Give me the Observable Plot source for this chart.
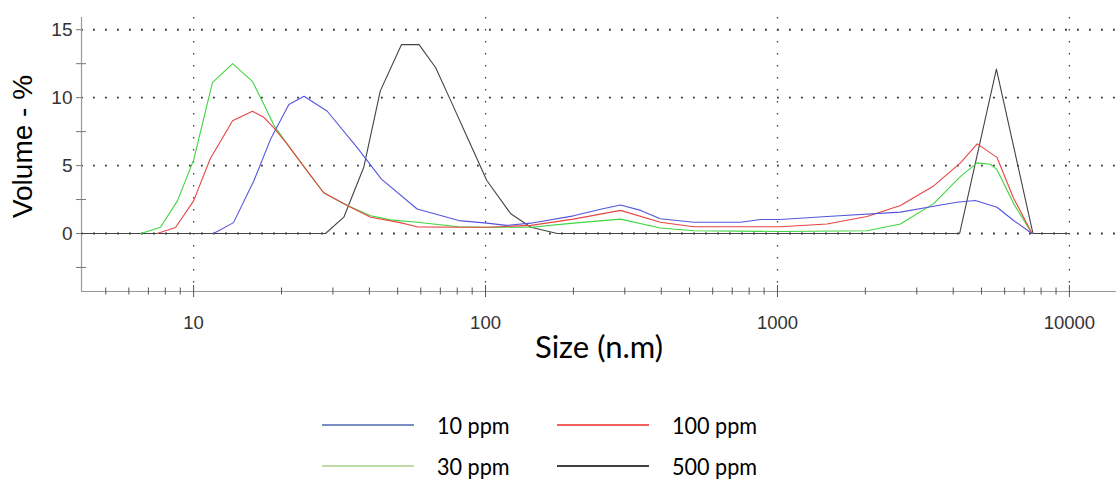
<!DOCTYPE html>
<html>
<head>
<meta charset="utf-8">
<script src="https://cdn.jsdelivr.net/npm/d3@7"></script>
<script src="https://cdn.jsdelivr.net/npm/@observablehq/plot@0.6"></script>
<style>
  html, body { margin: 0; padding: 0; background: #fff; }
  #wrap { width: 1116px; height: 482px; position: relative; overflow: hidden; }
  #legend { position: relative; width: 1116px; height: 102px; font-family: Lato, "Open Sans", sans-serif; font-size: 24px; color: #000; }
  .item { position: absolute; height: 30px; }
  .item svg { position: absolute; top: 0; left: 0; }
  .item span { position: absolute; top: 0; line-height: 30px; white-space: nowrap; transform: scaleX(0.9); transform-origin: left center; }
</style>
</head>
<body>
<div id="wrap">
  <div id="chart"></div>
  <div id="legend"></div>
</div>
<script>
// ---- data ----
const seriesNames = ["10 ppm", "100 ppm", "30 ppm", "500 ppm"];
const chartColors = ["#5555dd", "#e84444", "#3fd63f", "#444444"];
const legendColors = ["#4a6aa8", "#ee2a2a", "#a8d08d", "#000000"];

const size10 = [11.7, 13.7, 16.1, 18.4, 21.2, 23.9, 28.7, 36.4, 44, 58.3, 81, 101, 118, 143, 200, 250, 290, 340, 397, 516, 747, 875, 1023, 1479, 2637, 3428, 4121, 4760, 5649, 6440, 7445];
const vol10  = [0, 0.8, 3.9, 7.0, 9.5, 10.1, 9.0, 6.3, 4.0, 1.8, 0.95, 0.76, 0.6, 0.76, 1.3, 1.8, 2.1, 1.7, 1.08, 0.83, 0.83, 1.03, 1.03, 1.25, 1.57, 2.0, 2.3, 2.43, 1.93, 0.96, 0];

const size100 = [7.5, 8.67, 10, 11.4, 13.6, 15.9, 17.4, 18.8, 20.9, 23.9, 27.9, 33.6, 40.4, 51, 58.3, 81, 101, 143, 200, 290, 397, 516, 1023, 1479, 2027, 2637, 3428, 4236, 4830, 5649, 6440, 7445];
const vol100  = [0, 0.44, 2.4, 5.5, 8.3, 9.0, 8.55, 7.8, 6.6, 4.9, 3.0, 2.06, 1.2, 0.8, 0.49, 0.46, 0.46, 0.6, 1.06, 1.7, 0.83, 0.5, 0.5, 0.7, 1.25, 2.06, 3.5, 5.2, 6.6, 5.6, 2.6, 0];

const size30 = [6.6, 7.7, 8.8, 10, 11.6, 13.6, 15.9, 17.6, 18.8, 20.9, 23.9, 27.9, 33.6, 40.4, 47.3, 58.3, 81, 101, 143, 200, 290, 397, 516, 1023, 2027, 2637, 3428, 4236, 4830, 5358, 5649, 6440, 7445];
const vol30  = [0, 0.46, 2.4, 5.4, 11.1, 12.5, 11.2, 9.3, 8.0, 6.6, 4.9, 3.0, 2.06, 1.3, 1.0, 0.83, 0.5, 0.46, 0.46, 0.76, 1.06, 0.4, 0.2, 0.15, 0.2, 0.7, 2.2, 4.2, 5.2, 5.1, 4.7, 2.2, 0];

const size500 = [4.13, 28.3, 32.7, 38.3, 43.6, 51.5, 59.2, 67.5, 75.9, 86.5, 101, 122, 143, 176, 4208, 5623, 7500, 10000];
const vol500  = [0, 0, 1.2, 4.9, 10.5, 13.9, 13.9, 12.2, 9.8, 7.1, 3.9, 1.45, 0.46, 0, 0, 12.1, 0, 0];

const xMajorTicks = [10, 100, 1000, 10000];
const xMinorTicks = [5, 6, 7, 8, 9, 20, 30, 40, 50, 60, 70, 80, 90, 200, 300, 400, 500, 600, 700, 800, 900, 2000, 3000, 4000, 5000, 6000, 7000, 8000, 9000];
const yMajorTicks = [0, 5, 10, 15];
const yMinorTicks = [-2.5, 2.5, 7.5, 12.5];
const xDomain = [4.13, 14500];
const yDomain = [-4.27, 15.9];
const xLabel = "Size (n.m)";
const yLabel = "Volume - %";

// ---- build table ----
const sizeArrays = [size10, size100, size30, size500];
const volArrays = [vol10, vol100, vol30, vol500];
const rows = [];
// draw order: 500 ppm first, then 30, 100, 10
[3, 2, 1, 0].forEach(i => {
  sizeArrays[i].forEach((s, j) => rows.push({series: seriesNames[i], size: s, vol: volArrays[i][j]}));
});

const tickFont = "Liberation Sans, Arial, sans-serif";

const chart = Plot.plot({
  width: 1116,
  height: 380,
  marginLeft: 81,
  marginRight: 0,
  marginTop: 17,
  marginBottom: 89,
  x: {type: "log", domain: xDomain},
  y: {domain: yDomain},
  color: {domain: seriesNames, range: chartColors},
  style: {fontFamily: tickFont, background: "white", color: "#333", overflow: "visible"},
  marks: [
    Plot.ruleY(yMajorTicks, {stroke: "#333", strokeWidth: 1.8, strokeDasharray: "1.8,10.2"}),
    Plot.ruleX(xMajorTicks, {stroke: "#444", strokeWidth: 1.3, strokeDasharray: "1.5,10.5"}),
    Plot.ruleX([xDomain[0]], {stroke: "#9a9a9a", strokeWidth: 1.2}),
    Plot.ruleY([yDomain[0]], {stroke: "#9a9a9a", strokeWidth: 1.2}),
    Plot.axisX(xMajorTicks, {tickSize: 12, dy: -6, tickFormat: () => "", stroke: "#555", label: null}),
    Plot.axisX(xMinorTicks, {tickSize: 7, dy: -3.5, tickFormat: () => "", stroke: "#555", label: null}),
    Plot.axisX(xMajorTicks, {tickSize: 0, tickPadding: 24, fontSize: 18.5, tickFormat: d => String(d), fill: "#333", label: null}),
    Plot.axisY(yMajorTicks, {tickSize: 5, tickPadding: 4, fontSize: 19, tickFormat: d => String(d), stroke: "#777", fill: "#333", label: null}),
    Plot.axisY(yMinorTicks, {tickSize: 10, dx: 5, tickFormat: () => "", stroke: "#777", label: null}),
    Plot.line(rows, {x: "size", y: "vol", z: "series", stroke: "series", strokeWidth: 1.1, curve: "linear"}),
    Plot.text([xLabel], {frameAnchor: "bottom", dy: 66, fontSize: 31, fontFamily: "Lato, 'Open Sans', sans-serif", fill: "#000"}),
    Plot.text([yLabel], {frameAnchor: "left", textAnchor: "middle", dx: -58, dy: -8, rotate: -90, fontSize: 28, fontFamily: tickFont, fill: "#000"})
  ]
});
document.getElementById("chart").appendChild(chart);

// ---- legend (HTML below the SVG) ----
const legendPos = [
  {left: 322, top: 30},   // 10 ppm
  {left: 557, top: 30},   // 100 ppm
  {left: 322, top: 71},   // 30 ppm
  {left: 557, top: 71}    // 500 ppm
];
const legend = d3.select("#legend");
seriesNames.forEach((name, i) => {
  const item = legend.append("div").attr("class", "item")
    .style("left", legendPos[i].left + "px").style("top", legendPos[i].top + "px");
  const svg = item.append("svg").attr("width", 94).attr("height", 30);
  svg.append("line").attr("x1", 0).attr("x2", 92).attr("y1", 15).attr("y2", 15)
    .attr("stroke", legendColors[i]).attr("stroke-width", 1.5);
  item.append("span").style("left", "115px").text(name);
});
</script>
</body>
</html>
